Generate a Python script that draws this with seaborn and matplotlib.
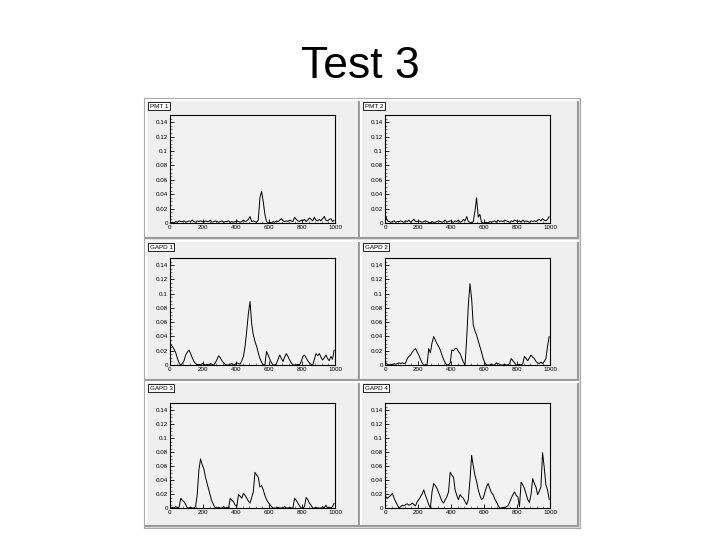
import numpy as np
import pandas as pd
import seaborn as sns
import matplotlib.pyplot as plt
from matplotlib.ticker import MultipleLocator


# -------------------------------
# Bin contents (units of 1e-3), 100 bins over 0-1000
# -------------------------------

pmt1 = [0, 1, 0, 2, 1, 3, 2, 2, 3, 1,
        2, 3, 2, 4, 2, 1, 3, 2, 3, 2,
        1, 3, 2, 2, 4, 1, 2, 3, 2, 1,
        2, 3, 1, 2, 2, 3, 1, 2, 1, 2,
        3, 2, 1, 2, 4, 2, 3, 5, 9, 2,
        3, 2, 1, 4, 35, 44, 30, 12, 2, 0,
        1, 0, 2, 1, 3, 2, 4, 6, 3, 2,
        3, 2, 4, 3, 2, 8, 5, 3, 2, 4,
        3, 5, 2, 4, 7, 5, 3, 8, 4, 3,
        5, 3, 6, 9, 4, 3, 5, 6, 2, 4]

pmt2 = [9, 3, 2, 1, 2, 3, 1, 2, 2, 3,
        2, 1, 3, 2, 4, 1, 3, 5, 2, 2,
        3, 2, 1, 2, 3, 2, 1, 0, 2, 1,
        1, 2, 3, 2, 1, 2, 4, 1, 2, 3,
        2, 1, 3, 2, 4, 1, 2, 5, 3, 9,
        2, 1, 0, 2, 16, 35, 8, 12, 1, 0,
        0, 1, 0, 2, 1, 2, 3, 1, 4, 2,
        3, 2, 4, 3, 2, 1, 3, 2, 4, 3,
        2, 3, 1, 4, 2, 3, 2, 1, 3, 2,
        3, 2, 4, 5, 3, 6, 4, 3, 5, 9]

gapd1 = [28, 26, 22, 17, 9, 3, 0, 2, 6, 14,
         18, 21, 16, 10, 5, 2, 0, 1, 0, 2,
         1, 0, 1, 0, 2, 1, 0, 3, 8, 13,
         10, 6, 3, 1, 0, 0, 1, 2, 0, 1,
         3, 2, 1, 6, 12, 26, 48, 72, 89, 58,
         42, 33, 26, 17, 9, 4, 0, 0, 19, 14,
         8, 3, 0, 0, 2, 8, 14, 9, 5, 11,
         16, 12, 7, 3, 0, 0, 0, 1, 0, 5,
         12, 14, 10, 6, 3, 1, 0, 8, 16, 13,
         16, 11, 7, 10, 14, 9, 6, 12, 8, 21]

gapd2 = [3, 1, 0, 1, 0, 2, 1, 2, 3, 2,
         3, 2, 3, 9, 12, 14, 18, 21, 23, 18,
         14, 8, 3, 0, 0, 0, 23, 17, 31, 40,
         35, 30, 26, 21, 14, 8, 3, 0, 0, 3,
         21, 20, 23, 23, 19, 16, 10, 4, 0, 37,
         84, 114, 93, 56, 48, 42, 34, 26, 18, 9,
         3, 0, 0, 0, 1, 0, 0, 3, 2, 1,
         0, 0, 1, 0, 0, 2, 9, 6, 3, 0,
         0, 1, 0, 2, 12, 9, 6, 10, 14, 11,
         9, 5, 3, 2, 4, 2, 5, 9, 26, 40]

gapd3 = [0, 1, 0, 2, 0, 1, 14, 11, 9, 5,
         0, 0, 1, 0, 0, 2, 19, 54, 70, 62,
         56, 44, 35, 26, 17, 9, 4, 0, 0, 1,
         0, 0, 2, 0, 1, 0, 14, 11, 9, 4,
         2, 19, 17, 14, 21, 18, 14, 10, 7, 15,
         23, 51, 47, 44, 30, 32, 26, 18, 12, 8,
         5, 2, 0, 0, 0, 1, 0, 0, 0, 2,
         0, 0, 1, 0, 0, 14, 11, 7, 3, 0,
         0, 2, 15, 12, 7, 4, 0, 0, 1, 0,
         0, 0, 2, 0, 4, 0, 1, 0, 2, 7]

gapd4 = [16, 14, 16, 18, 21, 14, 9, 4, 0, 2,
         4, 3, 5, 6, 4, 5, 7, 5, 3, 9,
         12, 16, 20, 26, 18, 12, 5, 0, 23, 35,
         32, 28, 22, 16, 10, 7, 12, 16, 23, 51,
         47, 44, 26, 18, 12, 19, 16, 14, 9, 5,
         12, 40, 75, 60, 47, 38, 26, 18, 12, 14,
         22, 30, 35, 28, 22, 19, 13, 9, 4, 0,
         0, 1, 0, 2, 3, 8, 14, 19, 23, 18,
         16, 2, 37, 33, 28, 20, 12, 8, 19, 42,
         35, 30, 19, 24, 30, 79, 58, 33, 26, 12]

titles = ["PMT 1", "PMT 2", "GAPD 1", "GAPD 2", "GAPD 3", "GAPD 4"]
series = [pmt1, pmt2, gapd1, gapd2, gapd3, gapd4]
x_ticks = [0, 200, 400, 600, 800, 1000]
y_ticks = [0, 0.02, 0.04, 0.06, 0.08, 0.1, 0.12, 0.14]
y_labels = ["0", "0.02", "0.04", "0.06", "0.08", "0.1", "0.12", "0.14"]

bin_centers = np.arange(5, 1000, 10)


# -------------------------------
# Figure layout (pixel boxes)
# -------------------------------

W, H = 720, 540


def box(x0, y0, x1, y1):
    return [x0 / W, 1 - y1 / H, (x1 - x0) / W, (y1 - y0) / H]


sns.set_style("white")
plt.rcParams["font.family"] = ["Liberation Sans", "DejaVu Sans"]

fig = plt.figure(figsize=(7.2, 5.4), dpi=100)
fig.patch.set_facecolor("white")

fig.text(0.5, 1 - 67 / H, "Test 3", ha="center", va="center",
         fontsize=32, color="black")

# outer canvas
canvas = fig.add_axes(box(144, 98, 580, 528))
canvas.set_facecolor("#e4e4e4")
canvas.set_xticks([])
canvas.set_yticks([])
for s in canvas.spines.values():
    s.set_color("#a8a8a8")
    s.set_linewidth(0.8)

pad_cols = [(146, 359), (361, 578)]
pad_rows = [(100, 238), (241, 380), (382, 526)]
frame_cols = [(170, 335), (385, 550)]
frame_rows = [(115, 223), (258, 365), (403, 508)]

for i, (name, vals) in enumerate(zip(titles, series)):
    r, c = divmod(i, 2)

    # pad with bevel
    pad = fig.add_axes(box(pad_cols[c][0], pad_rows[r][0],
                           pad_cols[c][1], pad_rows[r][1]))
    pad.set_facecolor("#efefef")
    pad.set_xticks([])
    pad.set_yticks([])
    pad.spines["left"].set_color("#ffffff")
    pad.spines["top"].set_color("#ffffff")
    pad.spines["right"].set_color("#9a9a9a")
    pad.spines["bottom"].set_color("#9a9a9a")
    for s in pad.spines.values():
        s.set_linewidth(1.5)

    # histogram frame
    ax = fig.add_axes(box(frame_cols[c][0], frame_rows[r][0],
                          frame_cols[c][1], frame_rows[r][1]))
    ax.set_facecolor("#f2f2f2")

    df = pd.DataFrame({"x": bin_centers, "y": np.array(vals) * 0.001})
    sns.lineplot(data=df, x="x", y="y", color="black", linewidth=0.7,
                 ax=ax)

    ax.set_xlim(0, 1000)
    ax.set_ylim(0, 0.15)
    ax.set_xlabel("")
    ax.set_ylabel("")
    ax.set_xticks(x_ticks)
    ax.set_xticklabels([str(t) for t in x_ticks])
    ax.set_yticks(y_ticks)
    ax.set_yticklabels(y_labels)
    ax.xaxis.set_minor_locator(MultipleLocator(40))
    ax.yaxis.set_minor_locator(MultipleLocator(0.005))
    ax.tick_params(which="major", direction="in", length=3, width=0.6,
                   labelsize=4.5, pad=1.5, colors="black",
                   top=False, right=False)
    ax.tick_params(which="minor", direction="in", length=1.5, width=0.4,
                   top=False, right=False)
    ax.tick_params(axis="both", which="both", bottom=True, left=True)
    for s in ax.spines.values():
        s.set_color("black")
        s.set_linewidth(0.8)

    # title box at top left of pad
    fig.text((pad_cols[c][0] + 4) / W, 1 - (pad_rows[r][0] + 6) / H, name,
             ha="left", va="center", fontsize=4.5, color="black",
             bbox=dict(boxstyle="square,pad=0.25", facecolor="white",
                       edgecolor="black", linewidth=0.6))

fig.savefig("out.png", dpi=100)
